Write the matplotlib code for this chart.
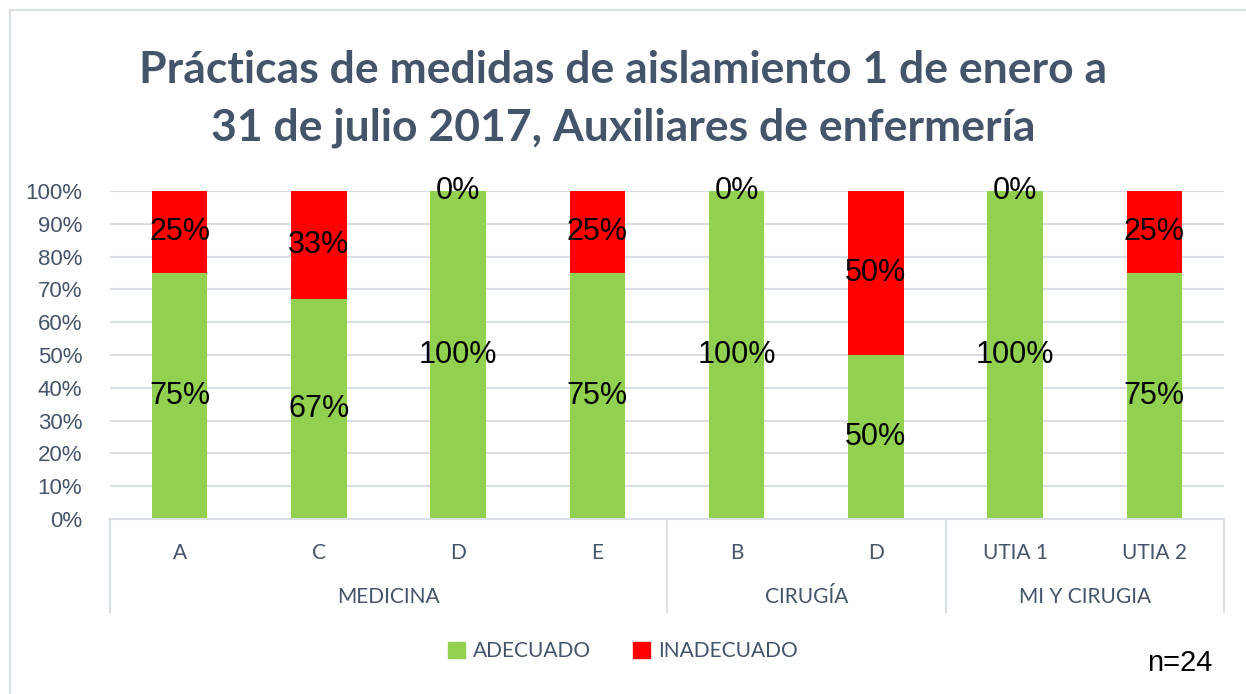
import numpy as np
import matplotlib
matplotlib.use('Agg')
from matplotlib import pyplot as plt
from matplotlib.lines import Line2D
from matplotlib.patches import Patch

categories = ['A', 'C', 'D', 'E', 'B', 'D', 'UTIA 1', 'UTIA 2']
groups = ['MEDICINA', 'CIRUGÍA', 'MI Y CIRUGIA']
group_sizes = [4, 2, 2]
adecuado = [75, 67, 100, 75, 100, 50, 100, 75]
inadecuado = [25, 33, 0, 25, 0, 50, 0, 25]

title = 'Prácticas de medidas de aislamiento 1 de enero a\n31 de julio 2017, Auxiliares de enfermería'
green = '#92D050'
red = '#FF0000'
txt = '#44546A'
grid = '#D9DEE7'

fig = plt.figure(figsize=(12.46, 6.94), dpi=100)
ax = fig.add_axes([110/1246, 1-519/694, (1224-110)/1246, (519-191)/694])

x = np.arange(len(categories))
b1 = ax.bar(x, adecuado, width=0.4, color=green, label='ADECUADO', zorder=2)
b2 = ax.bar(x, inadecuado, width=0.4, bottom=adecuado, color=red, label='INADECUADO', zorder=2)

for i in range(len(x)):
    ax.text(x[i], adecuado[i]/2, f'{adecuado[i]}%', ha='center', va='center',
            fontsize=22, family='Liberation Sans', color='black', zorder=3)
    ax.text(x[i], adecuado[i] + inadecuado[i]/2, f'{inadecuado[i]}%', ha='center', va='center',
            fontsize=22, family='Liberation Sans', color='black', zorder=3)

ax.set_xlim(-0.5, len(x) - 0.5)
ax.set_ylim(0, 100)
ax.set_yticks(np.arange(0, 101, 10))
ax.set_yticklabels([f'{v}%' for v in range(0, 101, 10)], family='Liberation Sans', fontsize=16, color=txt)
ax.tick_params(axis='y', length=0, pad=20)
ax.yaxis.grid(True, color=grid, lw=1.5, zorder=0)
ax.set_xticks(x)
ax.set_xticklabels(categories, family='Lato', fontsize=15, color=txt)
ax.tick_params(axis='x', length=0, pad=17)
for s in ['top', 'right', 'left']:
    ax.spines[s].set_visible(False)
ax.spines['bottom'].set_color(grid)
ax.spines['bottom'].set_linewidth(1.5)

# group brackets under the axis
depth = -(612-519)/328
edges = np.concatenate([[0], np.cumsum(group_sizes)]) - 0.5
tr = ax.get_xaxis_transform()
for e in edges:
    ax.add_line(Line2D([e, e], [0, depth], transform=tr, color=grid, lw=1.5, clip_on=False))
for g, a, b in zip(groups, edges[:-1], edges[1:]):
    ax.text((a + b)/2, -(597-519)/328, g, transform=tr, ha='center', va='center',
            family='Lato', fontsize=15, color=txt)

fig.suptitle(title, x=623/1246, y=1-99/694, va='center', fontsize=32, fontweight='bold',
             family='Lato', color=txt, linespacing=1.55)

handles = [Patch(color=green, label='ADECUADO'), Patch(color=red, label='INADECUADO')]
fig.legend(handles=handles, loc='center', bbox_to_anchor=(623/1246, 1-651/694), ncol=2,
           frameon=False, prop={'family': 'Lato', 'size': 15}, labelcolor=txt,
           handlelength=0.8, handleheight=0.8, columnspacing=2.0, handletextpad=0.4)

fig.text(1180/1246, 1-663/694, 'n=24', ha='center', va='center', fontsize=21,
         family='Liberation Sans', color='black')

# chart frame (top and left edges visible)
fig.add_artist(Line2D([10/1246, 10/1246], [0, 1-10/694], transform=fig.transFigure, color=grid, lw=1.5))
fig.add_artist(Line2D([10/1246, 1], [1-10/694, 1-10/694], transform=fig.transFigure, color=grid, lw=1.5))

fig.savefig('out.png', dpi=100)
